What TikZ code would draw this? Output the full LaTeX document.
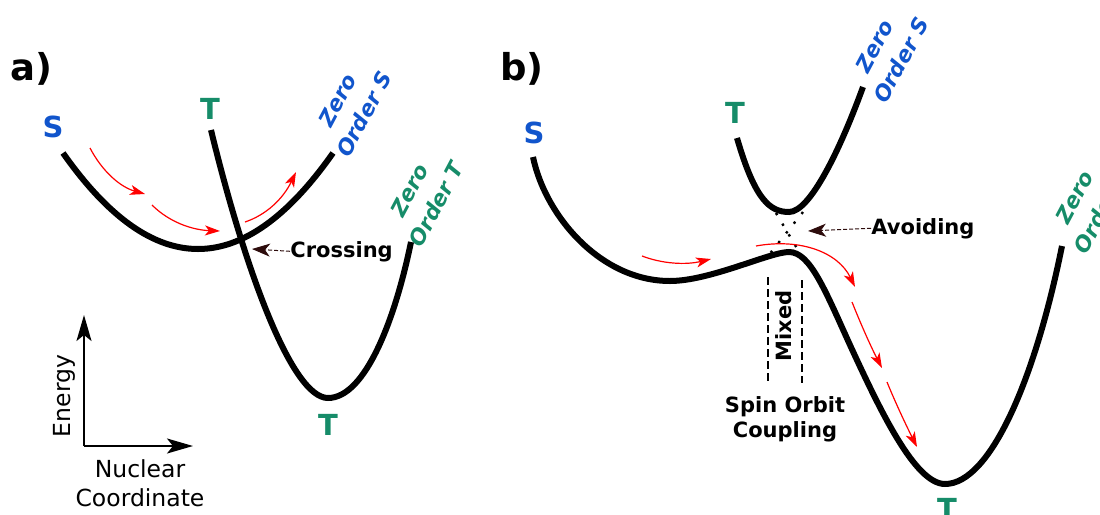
\documentclass[tikz,border=0pt]{standalone}
\usepackage{fontspec}
\setmainfont{DejaVu Sans}
\usetikzlibrary{arrows.meta}
\definecolor{sblue}{RGB}{17,85,204}
\definecolor{tgreen}{RGB}{22,140,105}
\definecolor{darkarrow}{RGB}{45,12,12}
\begin{document}
\begin{tikzpicture}[x=0.5pt,y=-0.5pt,
  pes/.style={line width=3pt},
  redarr/.style={red, line width=0.6pt, -{Stealth[length=7.5pt,width=5pt,inset=2pt]}},
  darr/.style={darkarrow, line width=0.5pt, dash pattern=on 2pt off 1pt, -{Stealth[length=9pt,width=6.5pt,inset=2.5pt]}},
  axarr/.style={line width=1pt, -{Stealth[length=13pt,width=7.5pt,inset=3pt]}},
  lbl/.style={font=\bfseries\fontsize{10.5}{12.5}\selectfont, inner sep=0pt},
  zero/.style={font=\bfseries\itshape\fontsize{10.8}{15}\selectfont, align=center, rotate=62, inner sep=0pt},
  big/.style={font=\bfseries\fontsize{14.5}{17}\selectfont, inner sep=0pt},
  panel/.style={font=\bfseries\fontsize{18.5}{20}\selectfont, inner sep=0pt},
  axlbl/.style={font=\fontsize{11.75}{14.5}\selectfont, inner sep=0pt},
  dotx/.style={line width=1.2pt, dash pattern=on 1.2pt off 5pt},
  mixline/.style={line width=1pt, dash pattern=on 4pt off 2pt}
]
\useasboundingbox (0,0) rectangle (1100,515);

% ---------------- panel a ----------------
\node[panel, anchor=base west] (pa) at (10,80) {a)};
\node[big, sblue, anchor=base] (aS) at (53,137) {S};
\node[big, tgreen, anchor=base] (aT) at (210,119) {T};
\node[big, tgreen, anchor=base] (aTb) at (328,435) {T};
\node[zero, sblue] (aZS) at (351,107) {Zero\\Order S};
\node[zero, tgreen] (aZT) at (423,197) {Zero\\Order T};

% S curve (parabola)
\draw[pes] (63,153) .. controls (153,281) and (243,281) .. (333,153);
% T curve
\draw[pes] (211,130) .. controls (245,270) and (292,398) .. (328,398)
           .. controls (365,398) and (395,320) .. (411,242);

% red arrows
\draw[redarr] (90,148) .. controls (102,171) and (120,187) .. (145,194);
\draw[redarr] (152,205) .. controls (169,222) and (192,230) .. (220,231);
\draw[redarr] (245,222) .. controls (266,215) and (283,199) .. (296,172);

% crossing
\node[lbl, anchor=base west] (crossl) at (290,257) {Crossing};
\coordinate (cross) at (252,249);
\draw[darr] (crossl.west) -- (cross);

% axes
\coordinate (ax0) at (84,446);
\coordinate (axy) at (84,315);
\coordinate (axx) at (193,446);
\draw[axarr] (ax0) -- (axy);
\draw[axarr] (ax0) -- (axx);
\node[axlbl, rotate=90] (energy) at (64,396) {Energy};
\node[axlbl, align=center] (nuc) at (140,483) {Nuclear\\Coordinate};

% ---------------- panel b ----------------
\node[panel, anchor=base west] (pb) at (500,80) {b)};
\node[big, sblue, anchor=base] (bS) at (534,143) {S};
\node[big, tgreen, anchor=base] (bT) at (735,123) {T};
\node[big, tgreen, anchor=base] (bTb) at (947,519) {T};
\node[zero, sblue] (bZS) at (888,53) {Zero\\Order S};
\node[zero, tgreen] (bZT) at (1088,204) {Zero\\Order T};

% lower adiabatic curve
\draw[pes] (533,157) .. controls (545,215) and (600,281) .. (670,281)
           .. controls (710,281) and (770,252) .. (789,252)
           .. controls (810,252) and (825,290) .. (850,345)
           .. controls (880,410) and (915,484) .. (945,484)
           .. controls (990,484) and (1035,380) .. (1062,246);
% upper adiabatic curve
\draw[pes] (737,138) .. controls (755,200) and (770,212) .. (789,212)
           .. controls (810,212) and (840,150) .. (863,87);

% dotted diabatic crossing
\draw[dotx] (776,213) -- (801,255);
\draw[dotx] (803,212) -- (768,256);

% red arrows
\draw[redarr] (642,256) .. controls (663,264) and (686,265) .. (711,259);
\draw[redarr] (756,246) .. controls (800,238) and (838,252) .. (855,287);
\draw[redarr] (852,302) .. controls (860,322) and (870,345) .. (882,368);
\draw[redarr] (887,382) .. controls (896,404) and (906,425) .. (917,447);

% avoiding
\node[lbl, anchor=base west] (avl) at (871,234) {Avoiding};
\coordinate (avoid) at (808,231);
\draw[darr] (avl.west) -- (avoid);

% mixed region
\draw[mixline] (768,277) -- (768,383);
\draw[mixline] (802,280) -- (802,383);
\node[lbl, rotate=90] (mixed) at (784,326) {Mixed};
\node[lbl, align=center] (soc) at (785,419) {Spin Orbit\\Coupling};
\end{tikzpicture}
\end{document}
